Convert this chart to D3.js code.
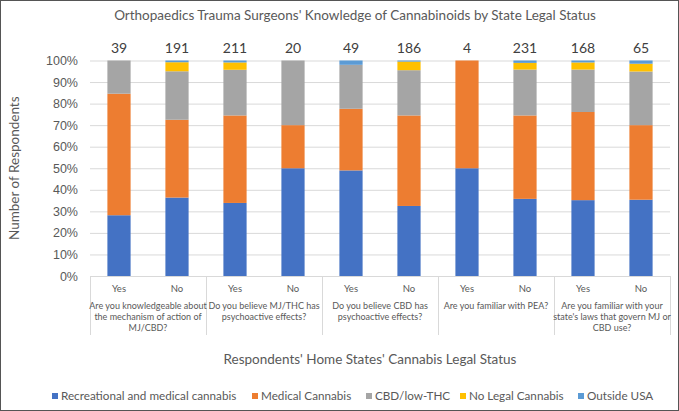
<!DOCTYPE html>
<html>
<head>
<meta charset="utf-8">
<script src="https://cdn.jsdelivr.net/npm/d3@7"></script>
<style>
  body { margin: 0; background: #fff; }
  svg { display: block; font-family: Lato, "Liberation Sans", sans-serif; }
  .axis-y text { fill: #595959; font-size: 12.5px; }
  .grid line { stroke: #d9d9d9; }
</style>
</head>
<body>
<div id="container"></div>
<script>
"use strict";
// chart values (percent of respondents)
const questions = [
    ["Are you knowledgeable about", "the mechanism of action of", "MJ/CBD?"],
    ["Do you believe MJ/THC has", "psychoactive effects?"],
    ["Do you believe CBD has", "psychoactive effects?"],
    ["Are you familiar with PEA?"],
    ["Are you familiar with your", "state's laws that govern MJ or", "CBD use?"]
];
const answers = ["Yes", "No", "Yes", "No", "Yes", "No", "Yes", "No", "Yes", "No"];
const counts = [39, 191, 211, 20, 49, 186, 4, 231, 168, 65];
const seriesNames = ["Recreational and medical cannabis", "Medical Cannabis",
    "CBD/low-THC", "No Legal Cannabis", "Outside USA"];
const recMed   = [28.2, 36.4, 33.9, 50, 49.0, 32.5, 50, 35.8, 35.2, 35.4];
const medical  = [56.4, 36.1, 40.6, 20, 28.6, 42.0, 50, 38.7, 40.9, 34.6];
const cbdLow   = [15.4, 22.5, 21.2, 30, 20.4, 21.0, 0, 21.3, 19.7, 24.9];
const noLegal  = [0, 4.2, 3.4, 0, 0, 4.0, 0, 3.1, 3.3, 3.6];
const outside  = [0, 0.8, 0.9, 0, 2.0, 0.5, 0, 1.1, 0.9, 1.5];
const yTicks = [0, 10, 20, 30, 40, 50, 60, 70, 80, 90, 100];

const colors = ["#4472c4", "#ed7d31", "#a5a5a5", "#ffc000", "#5b9bd5"];

const W = 679, H = 411;
const plotLeft = 90, plotRight = 670, plotTop = 60.5, plotBottom = 276;

const svg = d3.select("#container").append("svg")
    .attr("width", W)
    .attr("height", H);

// outer frame
svg.append("rect")
    .attr("x", 0.5).attr("y", 0.5)
    .attr("width", W - 1).attr("height", H - 1)
    .attr("fill", "#fff")
    .attr("stroke", "#555");

// build rows for the stack
const rows = counts.map((n, i) => ({
    idx: i,
    [seriesNames[0]]: recMed[i],
    [seriesNames[1]]: medical[i],
    [seriesNames[2]]: cbdLow[i],
    [seriesNames[3]]: noLegal[i],
    [seriesNames[4]]: outside[i]
}));
const stacked = d3.stack().keys(seriesNames)(rows);

const x = d3.scaleBand()
    .domain(d3.range(counts.length))
    .range([plotLeft, plotRight])
    .paddingInner(0.6)
    .paddingOuter(0.3);
const y = d3.scaleLinear().domain([0, 100]).range([plotBottom, plotTop]);
const color = d3.scaleOrdinal().domain(seriesNames).range(colors);

// gridlines
svg.append("g")
    .attr("class", "grid")
    .attr("transform", `translate(${plotLeft},0)`)
    .call(d3.axisLeft(y).tickValues(yTicks).tickSize(-(plotRight - plotLeft)).tickFormat(""))
    .call(g => g.select(".domain").remove());

// y axis labels
svg.append("g")
    .attr("class", "axis-y")
    .attr("transform", `translate(${plotLeft - 9},0)`)
    .call(d3.axisLeft(y).tickValues(yTicks).tickSize(0).tickFormat(d => d + "%"))
    .call(g => g.select(".domain").remove());

// bars
svg.append("g")
    .selectAll("g")
    .data(stacked)
    .enter().append("g")
        .attr("fill", d => color(d.key))
    .selectAll("rect")
    .data(d => d)
    .enter().append("rect")
        .attr("x", d => x(d.data.idx))
        .attr("width", x.bandwidth())
        .attr("y", d => y(d[1]))
        .attr("height", d => y(d[0]) - y(d[1]));

// respondent counts on top
svg.append("g")
    .selectAll("text")
    .data(counts)
    .enter().append("text")
        .attr("x", (d, i) => x(i) + x.bandwidth() / 2)
        .attr("y", 53)
        .attr("text-anchor", "middle")
        .attr("font-size", 14)
        .attr("fill", "#404040")
        .text(d => d);

// category axis: base line and group separators
const step = x.step();
svg.append("line")
    .attr("x1", plotLeft).attr("x2", plotRight)
    .attr("y1", plotBottom + 0.5).attr("y2", plotBottom + 0.5)
    .attr("stroke", "#d9d9d9");

svg.append("g")
    .selectAll("line")
    .data(d3.range(questions.length + 1))
    .enter().append("line")
        .attr("x1", k => plotLeft + k * 2 * step + 0.5)
        .attr("x2", k => plotLeft + k * 2 * step + 0.5)
        .attr("y1", plotBottom)
        .attr("y2", 335)
        .attr("stroke", "#d9d9d9");

svg.append("g")
    .selectAll("text")
    .data(answers)
    .enter().append("text")
        .attr("x", (d, i) => x(i) + x.bandwidth() / 2)
        .attr("y", 291.5)
        .attr("text-anchor", "middle")
        .attr("font-size", 9.5)
        .attr("fill", "#595959")
        .text(d => d);

const qLabels = svg.append("g")
    .selectAll("text")
    .data(questions)
    .enter().append("text")
        .attr("x", (d, k) => plotLeft + (k + 0.5) * 2 * step)
        .attr("text-anchor", "middle")
        .attr("font-size", 9)
        .attr("fill", "#595959");
qLabels.selectAll("tspan")
    .data(d => d)
    .enter().append("tspan")
        .attr("x", function() { return this.parentNode.getAttribute("x"); })
        .attr("y", (d, j) => 309 + j * 11)
        .text(d => d);

// titles
svg.append("text")
    .attr("x", 355)
    .attr("y", 20)
    .attr("text-anchor", "middle")
    .attr("font-size", 13.5)
    .attr("fill", "#595959")
    .text("Orthopaedics Trauma Surgeons' Knowledge of Cannabinoids by State Legal Status");

svg.append("text")
    .attr("x", 370)
    .attr("y", 364)
    .attr("text-anchor", "middle")
    .attr("font-size", 13.5)
    .attr("fill", "#595959")
    .text("Respondents' Home States' Cannabis Legal Status");

svg.append("text")
    .attr("transform", `translate(19, ${(plotTop + plotBottom) / 2}) rotate(-90)`)
    .attr("text-anchor", "middle")
    .attr("font-size", 13.5)
    .attr("fill", "#595959")
    .text("Number of Respondents");

// legend
const legendX = [52, 252, 366, 460, 578];
const legend = svg.append("g")
    .selectAll("g")
    .data(seriesNames)
    .enter().append("g")
        .attr("transform", (d, i) => `translate(${legendX[i]}, 396)`);
legend.append("rect")
    .attr("y", -3)
    .attr("width", 6)
    .attr("height", 6)
    .attr("fill", d => color(d));
legend.append("text")
    .attr("x", 9)
    .attr("y", 4.3)
    .attr("font-size", 11.7)
    .attr("fill", "#595959")
    .text(d => d);
</script>
</body>
</html>
